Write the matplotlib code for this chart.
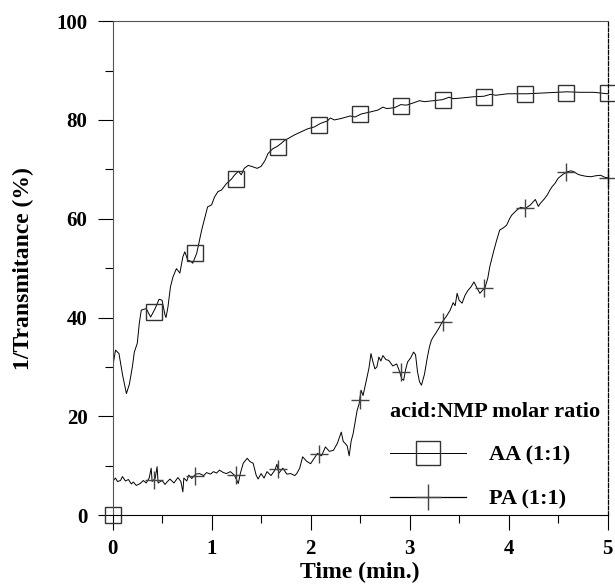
import matplotlib
matplotlib.use("Agg")
import matplotlib.pyplot as plt
from matplotlib.ticker import MultipleLocator

# AA (1:1) trace
aa_t = [0.0, 0.005, 0.01, 0.03, 0.065, 0.10, 0.14, 0.17, 0.20, 0.22, 0.25, 0.27, 0.29,
        0.34, 0.385, 0.43, 0.47, 0.50, 0.53, 0.54, 0.56, 0.585, 0.61, 0.645, 0.68, 0.71,
        0.73, 0.76, 0.79, 0.81, 0.85, 0.90, 0.96, 1.0, 1.03, 1.065, 1.10, 1.15, 1.20,
        1.23, 1.27, 1.30, 1.33, 1.37, 1.42, 1.46, 1.50, 1.54, 1.57, 1.62, 1.66, 1.70,
        1.74, 1.77, 1.84, 1.905, 1.97, 2.04, 2.10, 2.17, 2.20, 2.24, 2.31, 2.40, 2.45,
        2.51, 2.60, 2.68, 2.73, 2.77, 2.85, 2.91, 2.97, 3.03, 3.10, 3.15, 3.24, 3.33,
        3.40, 3.44, 3.50, 3.55, 3.65, 3.75, 3.82, 3.87, 3.99, 4.09, 4.19, 4.29, 4.39,
        4.49, 4.59, 4.72, 4.86, 5.0]
aa_v = [0.0, 20.0, 31.0, 33.4, 32.7, 28.5, 24.6, 26.5, 30.0, 33.0, 34.8, 38.8, 41.5,
        41.8, 40.1, 41.8, 43.7, 43.5, 40.5, 40.0, 42.2, 46.2, 48.2, 49.9, 49.0, 52.3,
        53.3, 51.6, 51.4, 51.0, 53.0, 57.7, 62.4, 62.8, 64.4, 65.5, 65.8, 67.1, 68.0,
        68.8, 69.6, 68.9, 70.2, 70.8, 70.5, 70.2, 70.6, 71.8, 73.2, 74.2, 74.6, 75.2,
        75.9, 76.2, 77.0, 77.6, 78.2, 78.6, 79.3, 79.8, 80.4, 80.0, 80.3, 80.8, 80.6,
        81.2, 81.6, 82.0, 82.6, 82.3, 82.5, 83.1, 83.0, 83.4, 83.9, 83.7, 83.9, 84.1,
        84.6, 84.3, 84.4, 84.5, 84.7, 84.8, 85.2, 85.0, 85.3, 85.3, 85.3, 85.4, 85.5,
        85.6, 85.7, 85.6, 85.6, 85.3]

# PA (1:1) trace
pa_t = [0.0, 0.003, 0.008, 0.03, 0.05, 0.08, 0.10, 0.13, 0.16, 0.19, 0.21, 0.24, 0.28,
        0.31, 0.34, 0.37, 0.39, 0.40, 0.43, 0.45, 0.46, 0.50, 0.53, 0.55, 0.58, 0.62,
        0.66, 0.69, 0.71, 0.72, 0.75, 0.77, 0.80, 0.84, 0.88, 0.92, 0.95, 0.99, 1.02,
        1.05, 1.08, 1.12, 1.15, 1.19, 1.23, 1.27, 1.29, 1.32, 1.36, 1.39, 1.42, 1.45,
        1.47, 1.50, 1.53, 1.56, 1.60, 1.64, 1.66, 1.68, 1.72, 1.76, 1.80, 1.84, 1.86,
        1.89, 1.92, 1.96, 2.00, 2.04, 2.07, 2.11, 2.15, 2.19, 2.23, 2.27, 2.31, 2.33,
        2.35, 2.37, 2.39, 2.41, 2.43, 2.45, 2.47, 2.49, 2.51, 2.53, 2.55, 2.57, 2.59,
        2.61, 2.63, 2.65, 2.67, 2.69, 2.71, 2.73, 2.76, 2.79, 2.83, 2.87, 2.90, 2.92,
        2.94, 2.96, 2.98, 3.01, 3.04, 3.06, 3.08, 3.10, 3.12, 3.15, 3.18, 3.20, 3.22,
        3.24, 3.27, 3.30, 3.33, 3.37, 3.41, 3.44, 3.46, 3.48, 3.50, 3.53, 3.56, 3.59,
        3.62, 3.65, 3.68, 3.71, 3.74, 3.76, 3.79, 3.81, 3.85, 3.88, 3.91, 3.95, 3.98,
        4.01, 4.03, 4.06, 4.08, 4.12, 4.17, 4.22, 4.27, 4.30, 4.32, 4.36, 4.39, 4.42,
        4.44, 4.47, 4.50, 4.55, 4.59, 4.63, 4.66, 4.70, 4.73, 4.78, 4.83, 4.88, 4.93,
        4.97, 5.0]
pa_v = [0.0, 10.5, 7.0, 7.5, 6.8, 7.0, 7.8, 6.9, 7.2, 6.3, 6.7, 6.0, 6.4,
        7.0, 6.5, 7.5, 9.5, 6.8, 7.4, 9.8, 6.5, 7.0, 6.2, 6.7, 7.3, 6.5,
        7.6, 6.8, 4.7, 7.5, 6.9, 8.1, 7.4, 8.3, 8.4, 8.0, 8.6, 8.3, 8.8,
        8.5, 9.1, 8.6, 8.4, 8.8, 8.1, 6.4, 8.4, 10.5, 11.5, 10.8, 10.5, 8.1,
        7.3, 8.4, 7.5, 8.8, 8.0, 9.1, 10.3, 8.5, 9.5, 8.3, 8.4, 8.0, 8.4,
        9.5, 11.8, 10.9, 10.4, 11.6, 12.5, 12.0, 13.8, 12.9, 13.1, 14.5, 16.8, 14.9,
        14.5, 14.0, 12.0, 15.0, 16.5, 18.8, 21.2, 22.5, 25.3, 24.2, 26.0, 27.9, 29.8,
        32.7, 31.0, 29.6, 30.0, 32.0, 31.2, 32.3, 31.5, 31.3, 30.2, 30.6, 29.0, 27.6,
        27.3, 29.5, 31.0, 31.8, 33.0, 32.5, 29.0, 27.0, 26.3, 28.5, 32.0, 34.0, 35.4,
        36.1, 37.0, 38.0, 39.1, 40.2, 41.5, 43.0, 42.4, 44.9, 43.5, 42.9, 44.5, 45.5,
        46.2, 47.2, 46.0, 44.9, 45.6, 45.9, 48.0, 50.3, 53.5, 55.7, 57.7, 58.2, 58.7,
        60.0, 60.7, 61.3, 61.7, 62.3, 62.1, 62.8, 63.9, 62.5, 63.1, 64.0, 64.8, 65.9,
        66.5, 67.2, 68.2, 69.0, 69.5, 69.7, 69.5, 69.0, 68.8, 68.6, 68.5, 68.7, 68.8,
        68.4, 68.3]

# marker positions
aa_mark_t = [0.0, 0.417, 0.833, 1.25, 1.667, 2.083, 2.5, 2.917, 3.333, 3.75, 4.167, 4.583, 5.0]
aa_mark_v = [0.0, 41.2, 53.0, 68.0, 74.6, 79.0, 81.3, 82.9, 84.0, 84.7, 85.2, 85.4, 85.5]
pa_mark_t = [0.417, 0.833, 1.25, 1.667, 2.083, 2.5, 2.917, 3.333, 3.75, 4.167, 4.583, 5.0]
pa_mark_v = [7.1, 8.0, 8.1, 9.4, 12.3, 23.4, 29.0, 39.1, 45.9, 62.1, 69.4, 68.3]

plt.rcParams['font.family'] = ['Liberation Serif', 'DejaVu Serif']
plt.rcParams['font.weight'] = 'bold'

fig = plt.figure(figsize=(6.15, 5.88), dpi=100)
ax = fig.add_axes([0.183, 0.124, 0.805, 0.840])

ax.plot(aa_t, aa_v, color='black', lw=0.7)
ax.plot(pa_t, pa_v, color='black', lw=0.7)
ax.plot(aa_mark_t, aa_mark_v, ls='none', marker='s', ms=12, mfc='none',
        mec='#333333', mew=1.0, clip_on=False)
ax.plot(pa_mark_t, pa_mark_v, ls='none', marker='+', ms=13, mec='#444444',
        mew=1.0, clip_on=False)

# legend handles (line + marker)
h_aa, = ax.plot([], [], color='black', lw=0.7, marker='s', ms=12, mfc='none',
                mec='#333333', mew=1.0)
h_pa, = ax.plot([], [], color='black', lw=0.9, marker='+', ms=13, mec='#444444',
                mew=1.0)
leg = ax.legend([h_aa, h_pa], ['AA (1:1)', 'PA (1:1)'], title='acid:NMP molar ratio',
                loc='lower left', bbox_to_anchor=(0.53, -0.02), frameon=False,
                prop={'size': 16, 'weight': 'bold'}, title_fontproperties={'size': 16, 'weight': 'bold'},
                markerscale=1.45, handlelength=3.4, labelspacing=1.05, handletextpad=1.05,
                borderpad=0.2)
leg._legend_box.align = 'left'

ax.set_xlim(0, 5)
ax.set_ylim(0, 100)
ax.xaxis.set_major_locator(MultipleLocator(1))
ax.xaxis.set_minor_locator(MultipleLocator(0.5))
ax.yaxis.set_major_locator(MultipleLocator(20))
ax.yaxis.set_minor_locator(MultipleLocator(10))
ax.tick_params(which='major', direction='out', length=11, width=0.8, labelsize=15, pad=6)
ax.tick_params(which='minor', direction='out', length=6, width=0.8)
ax.tick_params(axis='y', which='major', pad=7)

for s in ['left', 'bottom', 'top']:
    ax.spines[s].set_linewidth(0.8)
ax.spines['left'].set_color('#555555')
ax.spines['top'].set_color('#555555')
ax.spines['right'].set_linestyle((0, (3, 1.5)))
ax.spines['right'].set_linewidth(0.9)

ax.set_xlabel('Time (min.)', fontsize=17, fontweight='bold', labelpad=2)
ax.set_ylabel('1/Transmitance (%)', fontsize=17, fontweight='bold', labelpad=16)

fig.savefig('out.png', dpi=100)
